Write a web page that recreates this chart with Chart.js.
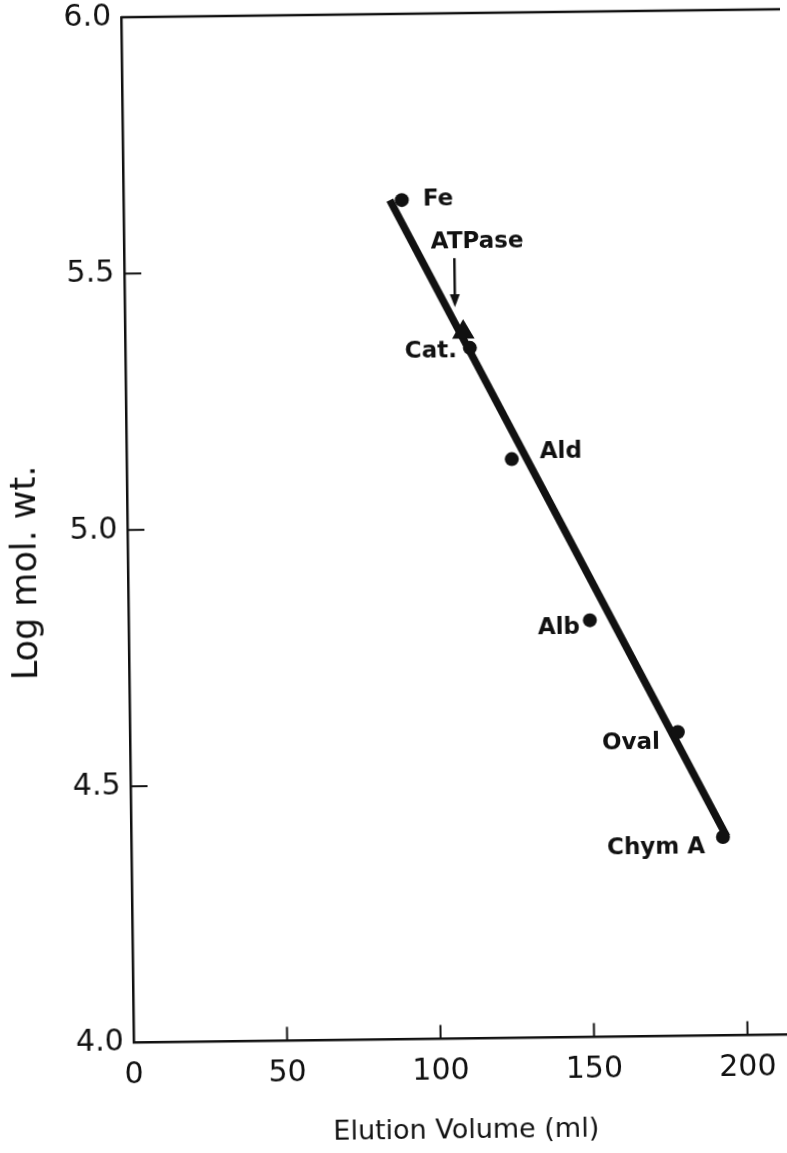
<!DOCTYPE html>
<html>
<head>
<meta charset="utf-8">
<script src="https://cdn.jsdelivr.net/npm/chart.js@4/dist/chart.umd.min.js"></script>
<style>
  html, body { margin: 0; padding: 0; background: #fff; overflow: hidden; }
  #wrap { width: 787px; height: 1153px; overflow: hidden; position: relative; background: #fff; }
  #c { display: block; transform: rotate(-0.7deg); transform-origin: 50% 50%; }
</style>
</head>
<body>
<div id="wrap"><canvas id="c" width="787" height="1153"></canvas></div>
<script>
// Calibration standards: elution volume (ml) vs log molecular weight
const proteinNames  = ['Fe', 'Cat.', 'Ald', 'Alb', 'Oval', 'Chym A'];
const elutionVolume = [90.7, 112.3, 125.5, 150.3, 178.5, 192.8];
const logMolWt      = [5.637, 5.347, 5.129, 4.813, 4.593, 4.387];

// Unknown (ATPase) position on the curve
const atpaseName    = 'ATPase';
const atpaseElution = [110.2];
const atpaseLogMw   = [5.378];

// Fitted calibration line end points
const fitLineX = [86.8, 194.0];
const fitLineY = [5.637, 4.388];

// Axis ticks and titles
const xTicks = [0, 50, 100, 150, 200];
const yTicks = [4.0, 4.5, 5.0, 5.5, 6.0];
const xTitle = 'Elution Volume (ml)';
const yTitle = 'Log mol. wt.';

// Label placement next to each standard: [dx, dy, align]
const labelPlacement = [
  [21, 0, 'left'],
  [-13, 3, 'right'],
  [28, -7, 'left'],
  [-10, 7, 'right'],
  [-18, 11, 'right'],
  [-18, 10, 'right']
];

const ink = '#111';
const FONT = '"DejaVu Sans", "Liberation Sans", sans-serif';

const decorations = {
  id: 'decorations',
  afterDatasetsDraw(chart) {
    const { ctx, chartArea: a } = chart;
    const xs = chart.scales.x, ys = chart.scales.y;
    ctx.save();
    ctx.strokeStyle = ink;
    ctx.fillStyle = ink;

    // top frame line
    ctx.lineWidth = 2.5;
    ctx.beginPath();
    ctx.moveTo(a.left, a.top);
    ctx.lineTo(a.right, a.top);
    ctx.stroke();

    // inward tick marks
    ctx.lineWidth = 2;
    xTicks.forEach(v => {
      if (v === xs.min) return;
      const px = xs.getPixelForValue(v);
      ctx.beginPath();
      ctx.moveTo(px, a.bottom);
      ctx.lineTo(px, a.bottom - 14);
      ctx.stroke();
    });
    yTicks.forEach(v => {
      if (v === ys.min || v === ys.max) return;
      const py = ys.getPixelForValue(v);
      ctx.beginPath();
      ctx.moveTo(a.left, py);
      ctx.lineTo(a.left + 17, py);
      ctx.stroke();
    });

    // standard labels
    ctx.font = 'bold 23px ' + FONT;
    ctx.textBaseline = 'middle';
    const pts = chart.getDatasetMeta(0).data;
    pts.forEach((p, i) => {
      const [dx, dy, align] = labelPlacement[i];
      ctx.textAlign = align;
      ctx.fillText(proteinNames[i], p.x + dx, p.y + dy);
    });

    // ATPase arrow and label
    const t = chart.getDatasetMeta(1).data[0];
    const ax = t.x - 8, tipY = t.y - 25, topY = t.y - 74;
    ctx.lineWidth = 2.5;
    ctx.beginPath();
    ctx.moveTo(ax, topY);
    ctx.lineTo(ax, tipY - 10);
    ctx.stroke();
    ctx.beginPath();
    ctx.moveTo(ax - 5, tipY - 13);
    ctx.lineTo(ax + 5, tipY - 13);
    ctx.lineTo(ax, tipY);
    ctx.closePath();
    ctx.fill();
    ctx.textAlign = 'center';
    ctx.fillText(atpaseName, ax + 23, topY - 16);

    // axis titles
    ctx.font = '27px ' + FONT;
    ctx.textAlign = 'center';
    ctx.fillText(xTitle, xs.getPixelForValue(108), a.bottom + 92);
    ctx.save();
    ctx.translate(27, a.bottom - 471);
    ctx.rotate(-Math.PI / 2);
    ctx.font = '35px ' + FONT;
    ctx.fillText(yTitle, 0, 0);
    ctx.restore();

    ctx.restore();
  }
};

new Chart(document.getElementById('c'), {
  type: 'scatter',
  data: {
    datasets: [
      {
        label: 'Standards',
        data: elutionVolume.map((v, i) => ({ x: v, y: logMolWt[i] })),
        pointRadius: 7,
        pointBackgroundColor: ink,
        pointBorderColor: ink,
        pointBorderWidth: 0,
        showLine: false
      },
      {
        label: atpaseName,
        data: atpaseElution.map((v, i) => ({ x: v, y: atpaseLogMw[i] })),
        pointStyle: 'triangle',
        pointRadius: 13,
        pointBackgroundColor: ink,
        pointBorderColor: ink,
        pointBorderWidth: 0,
        showLine: false
      },
      {
        label: 'Fit',
        data: fitLineX.map((v, i) => ({ x: v, y: fitLineY[i] })),
        showLine: true,
        borderColor: ink,
        borderWidth: 7.5,
        borderCapStyle: 'butt',
        pointRadius: 0
      }
    ]
  },
  options: {
    responsive: false,
    animation: false,
    events: [],
    devicePixelRatio: 1,
    layout: { autoPadding: false, padding: { top: 14, right: 0, left: 0, bottom: 0 } },
    plugins: { legend: { display: false }, tooltip: { enabled: false }, title: { display: false } },
    scales: {
      x: {
        type: 'linear',
        min: 0,
        max: 214.7,
        grid: { display: false, drawTicks: false },
        border: { display: true, color: ink, width: 2.5 },
        afterBuildTicks: s => { s.ticks = xTicks.map(v => ({ value: v })); },
        afterFit: s => {
          s.height = 113.5;
          s.paddingLeft = 0; s.paddingRight = 0; s.paddingTop = 0; s.paddingBottom = 0;
        },
        ticks: {
          color: ink,
          padding: 18,
          maxRotation: 0,
          autoSkip: false,
          font: { family: FONT, size: 30, lineHeight: 1 },
          callback: v => String(v)
        }
      },
      y: {
        type: 'linear',
        min: 4,
        max: 6,
        grid: { display: false, drawTicks: false },
        border: { display: true, color: ink, width: 2.5 },
        afterBuildTicks: s => { s.ticks = yTicks.map(v => ({ value: v })); },
        afterFit: s => {
          s.width = 128;
          s.paddingLeft = 0; s.paddingRight = 0; s.paddingTop = 0; s.paddingBottom = 0;
        },
        ticks: {
          color: ink,
          padding: 10,
          autoSkip: false,
          font: { family: FONT, size: 30, lineHeight: 1 },
          callback: v => Number(v).toFixed(1)
        }
      }
    }
  },
  plugins: [decorations]
});
</script>
</body>
</html>
